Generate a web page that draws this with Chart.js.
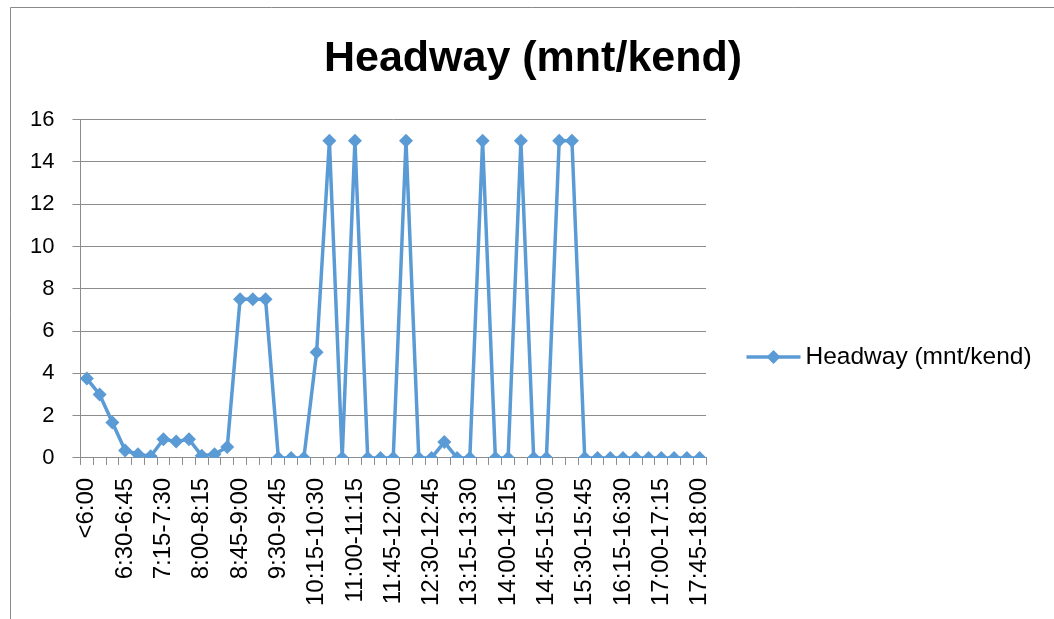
<!DOCTYPE html>
<html>
<head>
<meta charset="utf-8">
<script src="https://cdn.jsdelivr.net/npm/chart.js@4.4.1/dist/chart.umd.min.js"></script>
<style>
  html, body { margin: 0; padding: 0; background: #ffffff; }
  #wrap { position: relative; width: 1054px; height: 619px; }
</style>
</head>
<body>
<div id="wrap"><canvas id="c" width="1054" height="619"></canvas></div>
<script>
// ---- data ----
const categories = [
  "<6:00",
  "6:00-6:15", "6:15-6:30", "6:30-6:45", "6:45-7:00",
  "7:00-7:15", "7:15-7:30", "7:30-7:45", "7:45-8:00",
  "8:00-8:15", "8:15-8:30", "8:30-8:45", "8:45-9:00",
  "9:00-9:15", "9:15-9:30", "9:30-9:45", "9:45-10:00",
  "10:00-10:15", "10:15-10:30", "10:30-10:45", "10:45-11:00",
  "11:00-11:15", "11:15-11:30", "11:30-11:45", "11:45-12:00",
  "12:00-12:15", "12:15-12:30", "12:30-12:45", "12:45-13:00",
  "13:00-13:15", "13:15-13:30", "13:30-13:45", "13:45-14:00",
  "14:00-14:15", "14:15-14:30", "14:30-14:45", "14:45-15:00",
  "15:00-15:15", "15:15-15:30", "15:30-15:45", "15:45-16:00",
  "16:00-16:15", "16:15-16:30", "16:30-16:45", "16:45-17:00",
  "17:00-17:15", "17:15-17:30", "17:30-17:45", "17:45-18:00"
];
const headway = [
  3.75,
  3.0, 1.67, 0.35, 0.17,
  0.08, 0.88, 0.78, 0.88,
  0.1, 0.17, 0.52, 7.5,
  7.5, 7.5, 0, 0,
  0, 5, 15, 0,
  15, 0, 0, 0,
  15, 0, 0, 0.75,
  0, 0, 15, 0,
  0, 15, 0, 0,
  15, 15, 0, 0,
  0, 0, 0, 0,
  0, 0, 0, 0
];
const seriesName = "Headway (mnt/kend)";
const chartTitle = "Headway (mnt/kend)";
const yTicks = [0, 2, 4, 6, 8, 10, 12, 14, 16];
const labelEvery = 3;

// ---- styles ----
const BLUE = "#5B9BD5";
const GRID = "#8c8c8c";
const FONT = "'Liberation Sans', Arial, sans-serif";
const LEGEND_SPACE = 348;

const frame = {
  id: "frame",
  beforeDraw(chart) {
    const ctx = chart.ctx;
    ctx.save();
    ctx.strokeStyle = "#8a8a8a";
    ctx.lineWidth = 1;
    ctx.beginPath();
    ctx.moveTo(10.5, 619); ctx.lineTo(10.5, 7.5); ctx.lineTo(1054, 7.5);
    ctx.stroke();
    ctx.restore();
  }
};

// right-hand legend: line + diamond, then the series name
const sideLegend = {
  id: "sideLegend",
  afterDraw(chart) {
    const ctx = chart.ctx;
    const ds = chart.data.datasets[0];
    const x0 = chart.chartArea.right + 40.5, x1 = x0 + 54, y = 357, cx = (x0 + x1) / 2, r = 7;
    ctx.save();
    ctx.strokeStyle = ds.borderColor; ctx.lineWidth = 3.5;
    ctx.beginPath(); ctx.moveTo(x0, y); ctx.lineTo(x1, y); ctx.stroke();
    ctx.fillStyle = ds.borderColor;
    ctx.beginPath(); ctx.moveTo(cx, y - r); ctx.lineTo(cx + r, y); ctx.lineTo(cx, y + r); ctx.lineTo(cx - r, y); ctx.closePath(); ctx.fill();
    ctx.fillStyle = "#000";
    ctx.font = "24.5px " + FONT;
    ctx.textAlign = "left"; ctx.textBaseline = "middle";
    ctx.fillText(ds.label, x1 + 5, y);
    ctx.restore();
  }
};

new Chart(document.getElementById("c"), {
  type: "line",
  data: {
    labels: categories,
    datasets: [{
      label: seriesName,
      data: headway,
      borderColor: BLUE,
      backgroundColor: BLUE,
      borderWidth: 3.5,
      tension: 0,
      pointStyle: "rectRot",
      pointRadius: 7,
      pointBorderWidth: 0,
      pointBackgroundColor: BLUE,
      fill: false
    }]
  },
  options: {
    responsive: false,
    animation: false,
    devicePixelRatio: 1,
    layout: { padding: { left: 12, right: 0, top: 0, bottom: 0 } },
    plugins: {
      title: {
        display: true,
        text: chartTitle,
        color: "#000",
        font: { family: FONT, size: 43, weight: "bold" },
        padding: { top: 33, bottom: 35 }
      },
      legend: { display: false },
      tooltip: { enabled: false }
    },
    scales: {
      x: {
        type: "category",
        offset: true,
        border: { display: true, color: GRID, width: 1 },
        grid: { display: true, drawOnChartArea: false, drawTicks: true, tickLength: 7, color: GRID, offset: true },
        ticks: {
          autoSkip: false,
          maxRotation: 90,
          minRotation: 90,
          padding: 13,
          color: "#000",
          font: { family: FONT, size: 24 },
          callback: function (v, i) { return i % labelEvery === 0 ? categories[i] : ""; }
        }
      },
      y: {
        min: yTicks[0],
        max: yTicks[yTicks.length - 1],
        border: { display: true, color: GRID, width: 1 },
        grid: { color: GRID, lineWidth: 1, tickLength: 8 },
        afterBuildTicks: function (axis) { axis.ticks = yTicks.map(v => ({ value: v })); },
        ticks: {
          padding: 18,
          color: "#000",
          font: { family: FONT, size: 22 }
        }
      },
      legendSpace: {
        type: "linear",
        position: "right",
        display: true,
        border: { display: false },
        grid: { display: false, drawTicks: false },
        ticks: { display: false },
        afterFit: function (axis) { axis.width = LEGEND_SPACE; }
      }
    }
  },
  plugins: [frame, sideLegend]
});
</script>
</body>
</html>
